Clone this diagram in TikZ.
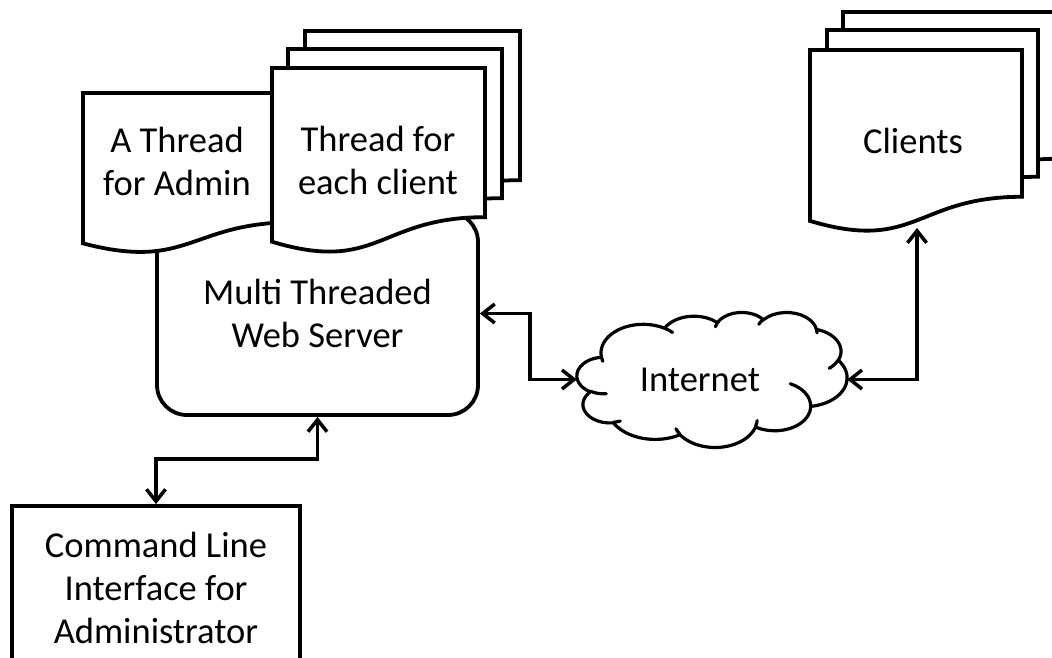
\documentclass[tikz,border=0pt]{standalone}
\usepackage{fontspec}
\setmainfont{Carlito}
\usetikzlibrary{arrows.meta,calc}
\newcommand{\mydocshape}[4]{%
  \draw[docline] (#1,#2) -- ({#1+#3},#2) -- ({#1+#3},{#2+0.802*#4})
    .. controls ({#1+0.5*#3},{#2+0.802*#4}) and ({#1+0.5*#3},{#2+1.107*#4}) ..
    (#1,{#2+0.934*#4}) -- cycle;}
\tikzset{
  docline/.style={draw=black, fill=white, line width=3.8pt, line join=miter},
  lbl/.style={font=\fontsize{36.5}{43}\selectfont, align=center, inner sep=0pt},
  serverbox/.style={draw=black, fill=white, line width=3.8pt, rounded corners=30pt,
    minimum width=321pt, minimum height=203pt, font=\fontsize{36.5}{43}\selectfont, align=center},
  clibox/.style={draw=black, fill=white, line width=3.8pt,
    minimum width=288pt, minimum height=164pt, font=\fontsize{36.5}{43}\selectfont, align=center},
  cloudline/.style={draw=black, line width=3.2pt, line join=round, line cap=round},
  ooarc/.style n args={4}{insert path={
    arc[x radius=#1, y radius=#2,
      start angle={atan2(sin(#3)*#1/#2,cos(#3))},
      delta angle={ifthenelse(#4>0,
        mod(atan2(sin(#3+#4)*#1/#2,cos(#3+#4))-atan2(sin(#3)*#1/#2,cos(#3))+720,360),
        -mod(atan2(sin(#3)*#1/#2,cos(#3))-atan2(sin(#3+#4)*#1/#2,cos(#3+#4))+720,360))}]}},
  biarrow/.style={{Straight Barb[length=12pt,width=19pt]}-{Straight Barb[length=12pt,width=19pt]},
    line width=3.5pt}
}
\begin{document}
\begin{tikzpicture}[x={(1pt,0)}, y={(0,-1pt)}]
\useasboundingbox (0,0) rectangle (1052,658);
% server
\node[serverbox] (server) at (317.5,313.5) {Multi Threaded\\Web Server};
% admin thread
\mydocshape{83}{93}{213}{161}
\node[lbl] (admintxt) at (177,161) {A Thread\\for Admin};
% client threads stack
\mydocshape{305}{31}{215}{186}
\mydocshape{288}{49}{214}{186}
\mydocshape{272}{68}{213}{186}
\node[lbl] (threadtxt) at (378,160) {Thread for\\each client};
% clients stack
\mydocshape{843}{12}{215}{183}
\mydocshape{827}{30}{211}{183}
\mydocshape{810}{50}{212}{183}
\node[lbl] (clients) at (913,141) {Clients};
\coordinate (cltip) at (917,228);
% internet cloud (PowerPoint-like cloud on a 4320 grid)
\node[minimum width=270pt, minimum height=135pt, inner sep=0pt] (internet) at (712,379.5) {};
\begin{scope}[shift={(577,312)}, x={(0.0625pt,0)}, y={(0,-0.03125pt)}]
  \draw[cloudline, fill=white] (390,1437)
    [ooarc={675.3}{919.0}{-190.4875}{123.7805}]
    [ooarc={533.3}{726.7}{-144.1024}{89.9452}]
    [ooarc={436.5}{594.5}{-145.8079}{99.7230}]
    [ooarc={485.7}{659.5}{-130.9861}{117.2417}]
    [ooarc={533.3}{727.3}{-78.7089}{109.0269}]
    [ooarc={677.5}{922.0}{-46.2673}{130.269}]
    [ooarc={578.5}{786.7}{0.6250}{114.0333}]
    [ooarc={675.2}{921.5}{22.4516}{115.1726}]
    [ooarc={772.0}{1054.3}{66.2426}{75.7110}]
    [ooarc={436.0}{591.8}{-274.9421}{146.7356}]
    [ooarc={434.5}{594.5}{-246.8285}{152.5189}] -- cycle;
  \draw[cloudline] (469.3,2617.7) [ooarc={434.5}{594.5}{86.742}{26.4295}];
  \draw[cloudline] (692.8,3489.9) [ooarc={436.0}{591.8}{73.6105}{11.4475}];
  \draw[cloudline] (1647.8,3909.0) [ooarc={675.2}{921.5}{137.6242}{14.0811}];
  \draw[cloudline] (2882.7,3475.1) [ooarc={675.2}{921.5}{6.4533}{15.9984}];
  \draw[cloudline] (3412.9,2295.4) [ooarc={578.5}{786.7}{-70.2924}{70.9174}];
  \draw[cloudline] (4179.8,1535.4) [ooarc={533.3}{727.3}{30.3180}{27.7515}];
  \draw[cloudline] (3832.4,542.6) [ooarc={485.7}{659.5}{-13.7443}{14.8589}];
  \draw[cloudline] (2907.8,395.2) [ooarc={485.7}{659.5}{-149.1815}{18.1954}];
  \draw[cloudline] (2214.1,472.0) [ooarc={436.5}{594.5}{-163.4943}{17.6864}];
  \draw[cloudline] (1400.0,519.2) [ooarc={675.3}{919.0}{-66.7070}{12.3194}];
  \draw[cloudline] (412.7,1578.9) [ooarc={675.3}{919.0}{157.6544}{11.8582}];
\end{scope}
\node[lbl] (nettxt) at (700,380) {Internet};
% CLI
\node[clibox] (cli) at (156,588) {Command Line\\Interface for\\Administrator};
% connectors
\draw[biarrow] (server.east) -- ++(50,0) |- (internet.west);
\draw[biarrow] (internet.east) -| (cltip);
\draw[biarrow] (cli.north) -- ++(0,-45) -| (server.south);
\end{tikzpicture}
\end{document}
